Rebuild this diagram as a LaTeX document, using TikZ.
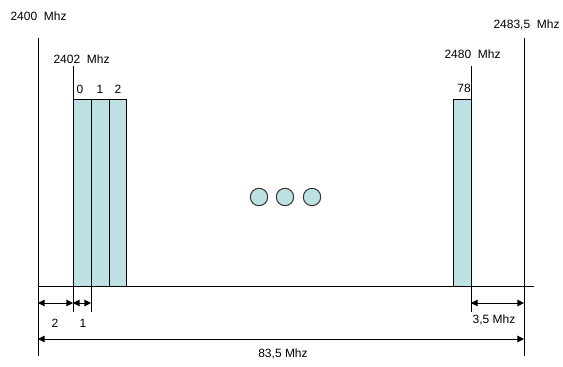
\documentclass[tikz,border=0pt]{standalone}
\usepackage{fontspec}
\setmainfont{Liberation Sans}
\usetikzlibrary{arrows.meta}
\definecolor{chanfill}{RGB}{189,224,227}

\begin{document}
\begin{tikzpicture}[x=0.75pt, y=-0.75pt, line width=0.75pt,
  every node/.style={font=\fontsize{9}{11}\selectfont, inner sep=0pt},
  chan/.style={draw, fill=chanfill},
  dimline/.style={{Triangle[length=5pt,width=5pt]}-{Triangle[length=5pt,width=5pt]}}]
\useasboundingbox (0,0) rectangle (563,367);
\newcommand{\Base}{286}; % baseline of the band
\newcommand{\Top}{100}; % top of the channels

\coordinate (BL) at (38, 38);   % 2400 Mhz edge
\coordinate (BLb) at (38, 356);
\coordinate (BR) at (524, 38);  % 2483,5 Mhz edge
\coordinate (BRb) at (524, 356);
\coordinate (CL) at (73, 66);   % 2402 Mhz
\coordinate (CLb) at (73, 312);
\coordinate (CM) at (91, 312);
\coordinate (CR) at (471, 66);  % 2480 Mhz
\coordinate (CRb) at (471, 312);

% band edges and baseline
\draw (BL) -- (BLb);
\draw (BR) -- (BRb);
\draw (38, \Base) -- (534, \Base);

% channels
\draw[chan] (73, \Top) rectangle (91, \Base);
\draw[chan] (91, \Top) rectangle (109, \Base);
\draw[chan] (109, \Top) rectangle (126, \Base);
\draw[chan] (453, \Top) rectangle (471, \Base);
\draw (CL) -- (CLb);
\draw (CR) -- (CRb);
\draw (91, \Base) -- (CM);

\node (n0) at (80, 89) {0};
\node (n1) at (100, 89) {1};
\node (n2) at (118, 89) {2};
\node (n78) at (464, 88) {78};

% dots
\foreach \cx in {259, 285, 312}
  \draw[fill=chanfill, draw=black!80] (\cx, 197) circle[radius=8.7];

% frequencies
\node[anchor=west] (f0) at (10, 16) {2400 \ Mhz};
\node[anchor=west] (f1) at (493, 25) {2483,5 \ Mhz};
\node[anchor=west] (f2) at (53, 59) {2402 \ Mhz};
\node[anchor=west] (f3) at (444, 54) {2480 \ Mhz};

% dimensions
\draw[dimline] (38, 303) -- (73, 303);
\draw[dimline] (73, 303) -- (91, 303);
\draw[dimline] (471, 303) -- (524, 303);
\draw[dimline] (38, 339) -- (524, 339);
\node (d2) at (55, 323) {2};
\node (d1) at (83, 323) {1};
\node (d35) at (494, 320) {3,5 Mhz};
\node (d835) at (283, 354) {83,5 Mhz};
\end{tikzpicture}
\end{document}
